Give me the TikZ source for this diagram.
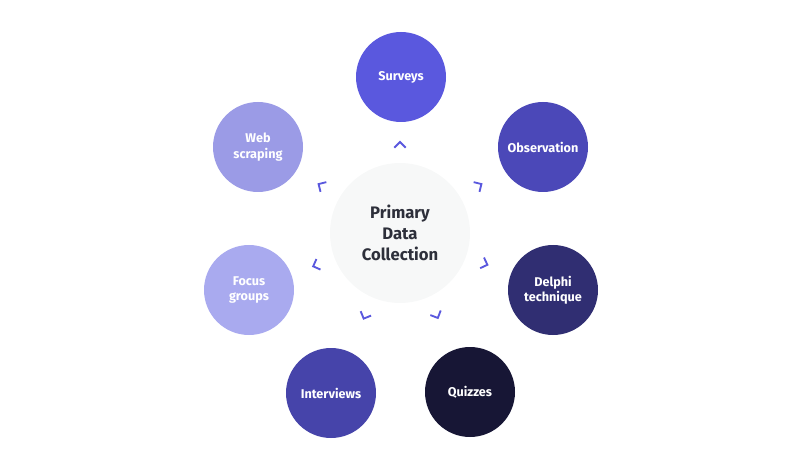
\documentclass[tikz,border=0pt]{standalone}
\usepackage{fontspec}
\setmainfont{Fira Sans}
\definecolor{cS}{HTML}{5A58DE}
\definecolor{cO}{HTML}{4B48B8}
\definecolor{cD}{HTML}{302E72}
\definecolor{cQ}{HTML}{171635}
\definecolor{cI}{HTML}{4644AA}
\definecolor{cF}{HTML}{A9AAEF}
\definecolor{cW}{HTML}{9B9BE6}
\definecolor{cC}{HTML}{F7F8F8}
\definecolor{cT}{HTML}{2D2F3A}
\begin{document}
\begin{tikzpicture}[x=0.75pt,y=-0.75pt,
  outer/.style={circle,minimum size=67.5pt,inner sep=0pt,text=white,font=\fontsize{9.5}{11.5}\selectfont\bfseries,align=center},
  chev/.style={draw=cS,line width=1.4pt}]
\useasboundingbox (0,0) rectangle (800,474);
\node[circle,fill=cC,minimum size=105pt,inner sep=0pt,text=cT,align=center,font=\fontsize{12.5}{15.5}\selectfont\bfseries] (c) at (400,233) {Primary\\Data\\Collection};
\node[outer,fill=cS] (s) at (401,77) {Surveys};
\node[outer,fill=cO] (o) at (543,147) {Observation};
\node[outer,fill=cD] (d) at (553,290) {Delphi\\technique};
\node[outer,fill=cQ] (q) at (470,392) {Quizzes};
\node[outer,fill=cI] (i) at (331,393) {Interviews};
\node[outer,fill=cF] (f) at (249,290) {Focus\\groups};
\node[outer,fill=cW] (w) at (258,147) {Web\\scraping};
\foreach \a/\r in {90/91,31/95,-20/93,-66/93,-113/93,-159/93,149/95}{
  \draw[chev] ({400+\r*cos(\a)+8*cos(\a+135)},{233-\r*sin(\a)-8*sin(\a+135)})
    -- ({400+\r*cos(\a)},{233-\r*sin(\a)})
    -- ({400+\r*cos(\a)+8*cos(\a-135)},{233-\r*sin(\a)-8*sin(\a-135)});
}
\end{tikzpicture}
\end{document}
